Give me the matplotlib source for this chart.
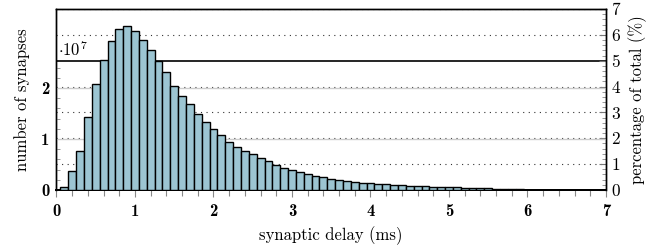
import numpy as np
import matplotlib
matplotlib.use("Agg")
import matplotlib.pyplot as plt
from matplotlib.ticker import MultipleLocator, FixedLocator

# ---- data ----
delay_centers = np.round(np.arange(1, 61) / 10.0, 1)  # bin centers (ms), bin width 0.1 ms
counts_1e7 = [0.06, 0.38, 0.77, 1.43, 2.07, 2.56, 2.93, 3.15, 3.22,
              3.12, 2.95, 2.74, 2.54, 2.31, 2.05, 1.85, 1.68, 1.50, 1.34,
              1.19, 1.07, 0.95, 0.85, 0.77, 0.71, 0.63, 0.56, 0.50, 0.44,
              0.39, 0.35, 0.32, 0.28, 0.25, 0.22, 0.20, 0.185, 0.165, 0.145,
              0.13, 0.125, 0.115, 0.105, 0.095, 0.085, 0.08, 0.07, 0.065, 0.06,
              0.055, 0.05, 0.045, 0.04, 0.035, 0.03, 0.025, 0.02, 0.015, 0.01,
              0.005]
counts = np.array(counts_1e7) * 1e7
left_ticks = [0, 1e7, 2e7]
left_ticklabels = ["0", "1", "2"]
pct_ticks = [0, 1, 2, 3, 4, 5, 6, 7]
x_ticks = [0, 1, 2, 3, 4, 5, 6, 7]

plt.rcParams['font.family'] = ['cmr10', 'DejaVu Serif']
plt.rcParams['mathtext.fontset'] = 'cm'
plt.rcParams['axes.unicode_minus'] = False

fig = plt.figure(figsize=(6.63, 2.45), dpi=100)
ax = fig.add_axes([0.0852, 0.2245, 0.8288, 0.7385])
ax2 = ax.twinx()
ax.set_zorder(ax2.get_zorder() + 1)
ax.patch.set_visible(False)

pct_per_unit = 1.972 / 1e7  # percent per synapse count
left_max = 7 / pct_per_unit

# right axis: percentages, dotted grid
ax2.set_ylim(0, 7)
ax2.yaxis.set_major_locator(FixedLocator(pct_ticks))
ax2.yaxis.set_minor_locator(MultipleLocator(0.2))
for p in [1, 2, 3, 4, 6, 7]:
    ax2.axhline(p, color='#333333', lw=0.8, ls=(0, (1, 4)), zorder=0)
ax2.axhline(5, color='black', lw=1.2, zorder=1)
ax2.tick_params(axis='y', which='major', direction='in', length=5, width=0.8,
                color='#777777', labelsize=12.5, pad=4)
ax2.tick_params(axis='y', which='minor', direction='in', length=3, width=0.6,
                color='#888888')
ax2.set_ylabel("percentage of total (%)", fontsize=12, labelpad=6)

# left axis: counts
ax.bar(delay_centers, counts, width=0.1, color='#9cc5d2', edgecolor='black',
       linewidth=1.0, zorder=3)
ax.set_xlim(0, 7)
ax.set_ylim(0, left_max)
ax.yaxis.set_major_locator(FixedLocator(left_ticks))
ax.set_yticklabels(left_ticklabels)
ax.yaxis.set_minor_locator(FixedLocator(np.arange(0.2, 2.41, 0.2) * 1e7))
for v in left_ticks[1:]:
    ax.axhline(v, color='#cccccc', lw=1.0, zorder=0.5)
ax.tick_params(axis='y', which='major', direction='in', length=0, labelsize=12,
               pad=5)
ax.tick_params(axis='y', which='minor', direction='in', length=3, width=0.6,
               color='#888888')
for lab in ax.get_yticklabels():
    lab.set_fontfamily('cmb10')

ax.xaxis.set_major_locator(FixedLocator(x_ticks))
ax.xaxis.set_minor_locator(MultipleLocator(0.2))
ax.tick_params(axis='x', which='major', direction='out', length=5, width=0.8,
               color='#888888', labelsize=12, pad=5)
ax.tick_params(axis='x', which='minor', direction='out', length=4, width=0.8,
               color='#888888')
for lab in ax.get_xticklabels():
    lab.set_fontfamily('cmb10')

ax.text(0.02, 2.62e7, r'$\cdot 10^{7}$', fontsize=12, ha='left',
        va='baseline', zorder=5)

ax.set_xlabel("synaptic delay (ms)", fontsize=12, labelpad=5)
ax.set_ylabel("number of synapses", fontsize=12, labelpad=8)

for a in (ax, ax2):
    for s in a.spines.values():
        s.set_linewidth(1.0)
    a.spines['bottom'].set_linewidth(1.4)

fig.savefig("out.png", dpi=100)
